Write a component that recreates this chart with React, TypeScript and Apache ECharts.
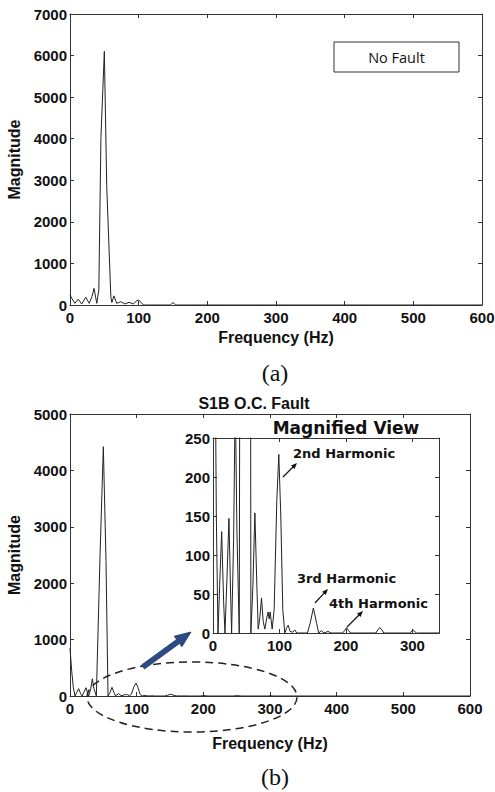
import React, { useEffect, useRef } from "react";
import * as echarts from "echarts";

// (a) No Fault spectrum
const freqA = [0, 3, 7, 12, 17, 23, 28, 32, 35, 39, 42, 45, 50, 53.5, 59.5, 61, 64, 68, 74, 80, 86, 92, 97, 100, 103, 107, 146, 150, 154, 600];
const magA = [240, 150, 40, 140, 25, 185, 40, 200, 400, 40, 360, 4000, 6100, 2850, 190, 60, 220, 40, 80, 25, 65, 25, 100, 120, 70, 0, 0, 60, 0, 0];

// (b) S1B O.C. Fault spectrum
const freqB = [0, 2.5, 5, 7.5, 10, 13, 16, 18, 21, 24, 26.5, 28, 31, 33.5, 36, 39.5, 45, 50, 54, 57, 60, 63, 66, 68, 70.5, 73, 75.5, 78, 81, 83, 84.5, 86, 89, 92, 96, 99, 102, 105, 108, 111, 113, 116, 120, 123, 126, 142, 146, 151, 156, 159, 163, 167, 173, 178, 195, 198, 201, 204, 207, 245, 248, 251, 254, 257, 296, 301, 306, 600];
const magB = [850, 450, 150, 0, 60, 130, 40, 0, 70, 147, 50, 0, 120, 305, 130, 0, 2470, 4420, 2400, 0, 60, 154, 60, 5, 20, 45, 15, 5, 20, 27, 18, 27, 5, 30, 170, 229, 150, 30, 0, 7, 10, 2, 1, 4, 0, 0, 12, 32, 12, 0, 3, 0, 2, 0, 0, 3, 7, 3, 0, 0, 4, 7, 4, 0, 0, 4, 0, 0];

const xRangeMain = { min: 0, max: 600, interval: 100 };
const yRangeA = { min: 0, max: 7000, interval: 1000 };
const yRangeB = { min: 0, max: 5000, interval: 1000 };
const xRangeInset = { min: 0, max: 340, interval: 100 };
const yRangeInset = { min: 0, max: 250, interval: 50 };

const harmonicLabels = ["2nd Harmonic", "3rd Harmonic", "4th Harmonic"];

const SANS = '"Liberation Sans", Arial, sans-serif';
const VERD = '"DejaVu Sans", Verdana, sans-serif';
const FRAME = "#333";

function pairs(xs: number[], ys: number[]) {
  return xs.map((x, i) => [x, ys[i]]);
}

function arrowPts(x1: number, y1: number, x2: number, y2: number, shaftW: number, headL: number, headW: number) {
  const dx = x2 - x1, dy = y2 - y1;
  const L = Math.hypot(dx, dy);
  const ux = dx / L, uy = dy / L;
  const nx = -uy, ny = ux;
  const bx = x2 - ux * headL, by = y2 - uy * headL;
  const s = shaftW / 2, h = headW / 2;
  return [
    [x1 + nx * s, y1 + ny * s],
    [bx + nx * s, by + ny * s],
    [bx + nx * h, by + ny * h],
    [x2, y2],
    [bx - nx * h, by - ny * h],
    [bx - nx * s, by - ny * s],
    [x1 - nx * s, y1 - ny * s],
  ];
}

function axisBase(range: any, gridIndex: number, position: string, showLabels: boolean, extra: any = {}) {
  return {
    type: "value",
    gridIndex,
    position,
    min: range.min,
    max: range.max,
    interval: range.interval,
    splitLine: { show: false },
    axisLine: { show: true, onZero: false, lineStyle: { color: FRAME, width: 1 } },
    axisTick: { show: true, inside: true, length: 4, lineStyle: { color: FRAME } },
    axisLabel: {
      show: showLabels,
      color: "#111",
      fontFamily: SANS,
      fontWeight: "bold",
      fontSize: 15,
      margin: position === "left" ? 3 : 5,
      showMaxLabel: range.max % range.interval === 0,
      formatter: (v: number) => String(v),
    },
    ...extra,
  };
}

function txt(text: string, x: number, y: number, size: number, family: string, weight: string, align = "center") {
  return {
    type: "text",
    x,
    y,
    z: 100,
    style: {
      text,
      x: 0,
      y: 0,
      fill: "#111",
      fontSize: size,
      fontFamily: family,
      fontWeight: weight,
      align,
      verticalAlign: "middle",
      textAlign: align,
      textVerticalAlign: "middle",
    },
  };
}

function smallArrow(x1: number, y1: number, x2: number, y2: number) {
  return {
    type: "polygon",
    z: 100,
    shape: { points: arrowPts(x1, y1, x2, y2, 1.2, 6, 5) },
    style: { fill: "#111", stroke: "none" },
  };
}

export default function App() {
  const ref = useRef<HTMLDivElement>(null);

  useEffect(() => {
    if (!ref.current) return;
    const chart = echarts.init(ref.current, null, { renderer: "svg" });
    const nameStyle = { color: "#111", fontFamily: SANS, fontWeight: "bold", fontSize: 16 };
    const gridCommon = { containLabel: false, outerBoundsMode: "none" };

    const option: any = {
      animation: false,
      backgroundColor: "#fff",
      grid: [
        { ...gridCommon, left: 70, top: 14, width: 412, height: 291 },
        { ...gridCommon, left: 70, top: 414, width: 400, height: 282 },
        { ...gridCommon, left: 213, top: 438, width: 226, height: 195, show: true, backgroundColor: "#fff", borderWidth: 0, z: 5 },
      ],
      xAxis: [
        axisBase(xRangeMain, 0, "bottom", true, {
          name: "Frequency (Hz)",
          nameLocation: "middle",
          nameGap: 24,
          nameTextStyle: nameStyle,
        }),
        axisBase(xRangeMain, 0, "top", false),
        axisBase(xRangeMain, 1, "bottom", true, {
          name: "Frequency (Hz)",
          nameLocation: "middle",
          nameGap: 39,
          nameTextStyle: nameStyle,
        }),
        axisBase(xRangeMain, 1, "top", false),
        axisBase(xRangeInset, 2, "bottom", true, { z: 6 }),
        axisBase(xRangeInset, 2, "top", false, { z: 6 }),
      ],
      yAxis: [
        axisBase(yRangeA, 0, "left", true, {
          name: "Magnitude",
          nameLocation: "middle",
          nameGap: 45,
          nameTextStyle: nameStyle,
        }),
        axisBase(yRangeA, 0, "right", false),
        axisBase(yRangeB, 1, "left", true, {
          name: "Magnitude",
          nameLocation: "middle",
          nameGap: 45,
          nameTextStyle: nameStyle,
        }),
        axisBase(yRangeB, 1, "right", false),
        axisBase(yRangeInset, 2, "left", true, { z: 6 }),
        axisBase(yRangeInset, 2, "right", false, { z: 6 }),
      ],
      series: [
        {
          type: "line",
          name: "No Fault",
          xAxisIndex: 0,
          yAxisIndex: 0,
          data: pairs(freqA, magA),
          showSymbol: false,
          symbol: "none",
          lineStyle: { color: "#222", width: 1 },
        },
        {
          type: "line",
          name: "S1B O.C. Fault",
          xAxisIndex: 2,
          yAxisIndex: 2,
          data: pairs(freqB, magB),
          showSymbol: false,
          symbol: "none",
          lineStyle: { color: "#222", width: 1 },
        },
        {
          type: "line",
          name: "Magnified View",
          xAxisIndex: 4,
          yAxisIndex: 4,
          data: pairs(freqB, magB),
          showSymbol: false,
          symbol: "none",
          clip: true,
          z: 7,
          lineStyle: { color: "#222", width: 1 },
        },
      ],
      graphic: [
        {
          type: "rect",
          z: 100,
          shape: { x: 334, y: 42, width: 125, height: 30 },
          style: { fill: "#fff", stroke: "#333", lineWidth: 1 },
        },
        txt("No Fault", 396.5, 57, 14.5, '"Open Sans", "Noto Sans", sans-serif', "normal"),
        txt("(a)", 275, 373, 24, '"Liberation Serif", "Times New Roman", serif', "normal"),
        txt("(b)", 275, 777, 24, '"Liberation Serif", "Times New Roman", serif', "normal"),
        txt("S1B O.C. Fault", 254, 403, 16, SANS, "bold"),
        txt("Magnified View", 346, 428, 17, VERD, "bold"),
        txt(harmonicLabels[0], 293, 453, 13, VERD, "bold", "left"),
        txt(harmonicLabels[1], 297, 578, 13, VERD, "bold", "left"),
        txt(harmonicLabels[2], 329, 603, 13, VERD, "bold", "left"),
        smallArrow(283, 477, 297, 463),
        smallArrow(315, 603, 328, 589),
        smallArrow(347, 627, 363, 611),
        {
          type: "ellipse",
          z: 100,
          shape: { cx: 192, cy: 697, rx: 105, ry: 35 },
          style: { fill: "none", stroke: "#222", lineWidth: 1.5, lineDash: [8, 5] },
        },
        {
          type: "polygon",
          z: 100,
          shape: { points: arrowPts(143, 667, 191, 632, 5, 16, 13) },
          style: { fill: "#2C4A86", stroke: "#1E3566", lineWidth: 0.8 },
        },
      ],
    };
    chart.setOption(option);
    return () => chart.dispose();
  }, []);

  return (
    <div
      ref={ref}
      style={{ position: "fixed", left: 0, top: 0, width: 495, height: 792, background: "#fff" }}
    />
  );
}
